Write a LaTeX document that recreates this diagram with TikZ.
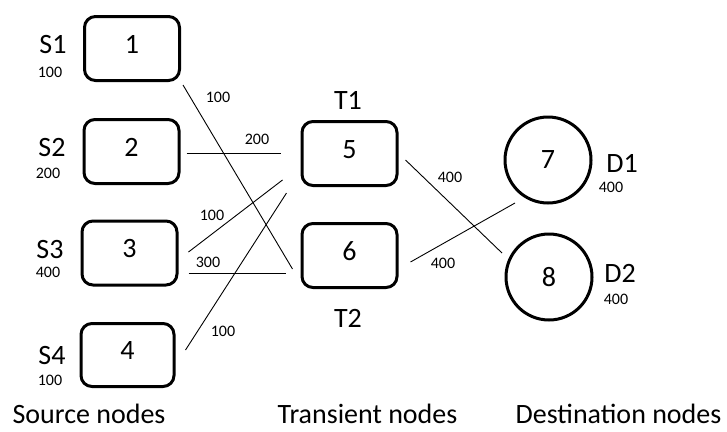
\documentclass[tikz,border=0pt]{standalone}
\usepackage{fontspec}
\setmainfont{Carlito}
\usetikzlibrary{calc}
\begin{document}
\begin{tikzpicture}[x=1pt,y=-1pt,
  box/.style={draw,line width=3pt,rounded corners=11pt,minimum width=95pt,minimum height=64pt,inner sep=0pt,
    font=\fontsize{28}{30}\selectfont,text height=19pt,text depth=10pt},
  circ/.style={draw,circle,line width=3pt,minimum size=86pt,inner sep=0pt,font=\fontsize{28}{30}\selectfont},
  big/.style={font=\fontsize{28}{30}\selectfont,inner sep=0pt},
  small/.style={font=\fontsize{16}{18}\selectfont,inner sep=0pt},
  link/.style={line width=0.9pt}]
\useasboundingbox (0,0) rectangle (727,431);
% source boxes
\node[box] (n1) at (132,48.5) {1};
\node[box] (n2) at (131.5,151.5) {2};
\node[box] (n3) at (129.5,253) {3};
\node[box,minimum width=93pt,minimum height=63pt] (n4) at (127.5,355) {4};
% transient boxes
\node[box] (n5) at (349.5,153.5) {5};
\node[box] (n6) at (349.5,255.5) {6};
% destination circles
\node[circ] (n7) at (548,160) {7};
\node[circ] (n8) at (549,277) {8};
% node labels
\node[big] (s1) at (53,45) {S1};
\node[small] (q1) at (50,72) {100};
\node[big] (s2) at (52,148) {S2};
\node[small] (q2) at (48,173) {200};
\node[big] (s3) at (50,250) {S3};
\node[small] (q3) at (48,272) {400};
\node[big] (s4) at (52,356) {S4};
\node[small] (q4) at (50,380) {100};
\node[big] (t1) at (348,100) {T1};
\node[big] (t2) at (348,318) {T2};
\node[big] (d1) at (622,163) {D1};
\node[small] (q7) at (611,187) {400};
\node[big] (d2) at (620,273) {D2};
\node[small] (q8) at (616,299) {400};
% captions
\node[big] (c1) at (89,414) {Source nodes};
\node[big] (c2) at (367.5,414) {Transient nodes};
\node[big] (c3) at (618.5,414) {Destination nodes};
% connectors
\draw[link] ($(n1.south east)+(2,3)$) -- ($(n6.west)+(-8,13.5)$);
\draw[link] ($(n2.east)+(6,1.5)$) -- ($(n5.west)+(-20,-0.5)$);
\draw[link] ($(n3.east)+(10,-1)$) -- ($(n5.west)+(-18,26.5)$);
\draw[link] ($(n3.east)+(10,20)$) -- ($(n6.west)+(-15,17.5)$);
\draw[link] ($(n4.east)+(10,-5)$) -- ($(n5.west)+(-14,39.5)$);
\draw[link] ($(n5.east)+(7,6.5)$) -- ($(n8.center)+(-47,-24)$);
\draw[link] ($(n6.east)+(12,6.5)$) -- ($(n7.center)+(-33,43)$);
% connector labels
\node[small] (l16) at (218,97) {100};
\node[small] (l25) at (257,139) {200};
\node[small] (l35) at (212,215) {100};
\node[small] (l36) at (208,262) {300};
\node[small] (l45) at (223,331) {100};
\node[small] (l58) at (450,177) {400};
\node[small] (l67) at (443,263) {400};
\end{tikzpicture}
\end{document}
